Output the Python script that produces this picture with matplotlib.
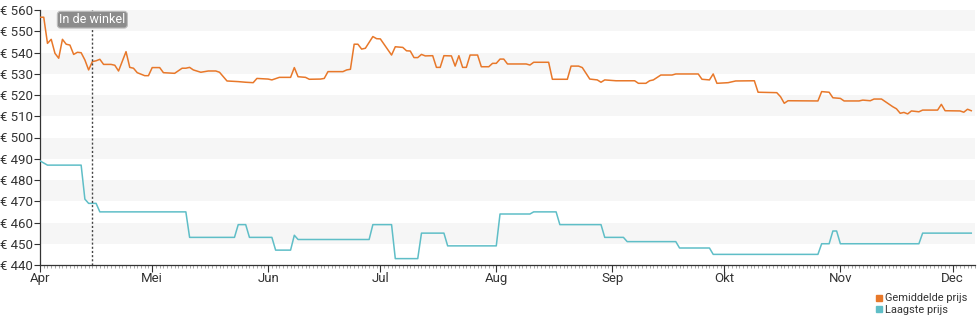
import numpy as np
import pandas as pd
import matplotlib
matplotlib.use("Agg")
import matplotlib.pyplot as plt
import matplotlib.dates as mdates
from matplotlib.lines import Line2D

plt.rcParams['font.family'] = ['Roboto', 'DejaVu Sans']

start = pd.Timestamp("2024-04-01")

# gemiddelde prijs (dagen vanaf 1 april)
avg_days = [0, 1, 2, 3, 4, 5, 6, 7, 8, 9, 10, 11, 12, 13, 14, 15, 16, 17, 19, 20,
            21, 23, 24, 25, 26, 28, 29, 30, 32, 33, 36, 38, 39, 40, 41, 43, 45, 47, 48, 50,
            53, 55, 57, 58, 61, 62, 64, 67, 68, 69, 71, 72, 75, 76, 77, 81, 82, 83, 84, 85,
            86, 87, 89, 90, 91, 94, 95, 97, 98, 99, 100, 101, 102, 103, 105, 106, 107, 108, 110, 111,
            112, 113, 114, 115, 117, 118, 120, 121, 122, 123, 124, 125, 130, 131, 132, 136, 137, 141, 142, 144,
            145, 146, 147, 149, 150, 151, 154, 159, 160, 162, 163, 164, 166, 169, 170, 176, 177, 179, 180, 181,
            184, 186, 191, 192, 197, 198, 199, 200, 208, 209, 211, 212, 214, 215, 219, 220, 222, 223, 225, 228,
            229, 230, 231, 232, 233, 235, 236, 240, 241, 242, 246, 247, 248, 249]
avg_price = [556.6, 556.6, 544.3, 546.2, 539.6, 537.3, 546.2, 543.9, 543.5, 539.1, 540.1, 539.9, 536.5, 531.8, 535.7, 536.1, 536.8, 534.4, 534.4, 534.0,
             531.3, 540.4, 533.0, 532.6, 530.5, 529.1, 529.1, 532.9, 532.9, 530.5, 530.2, 532.6, 532.6, 533.0, 531.8, 530.7, 531.3, 531.3, 530.7, 526.6,
             526.3, 526.0, 525.8, 527.8, 527.5, 527.1, 528.3, 528.3, 532.9, 528.6, 528.3, 527.4, 527.5, 527.8, 531.0, 531.0, 531.8, 532.1, 543.9, 543.9,
             541.6, 542.0, 547.5, 546.5, 546.4, 538.8, 542.7, 542.4, 540.8, 540.7, 537.6, 537.6, 539.1, 538.4, 538.5, 533.0, 533.0, 538.5, 538.4, 533.6,
             538.5, 533.0, 533.0, 538.8, 538.8, 533.3, 533.3, 534.9, 534.9, 536.9, 536.9, 534.6, 534.6, 534.1, 535.4, 535.4, 527.4, 527.4, 533.6, 533.6,
             532.9, 530.2, 527.5, 527.1, 526.0, 527.1, 526.7, 526.7, 525.5, 525.5, 526.7, 527.1, 529.4, 529.4, 529.9, 529.9, 527.4, 527.1, 529.9, 525.5,
             525.8, 526.6, 526.7, 521.3, 521.1, 519.2, 516.1, 517.3, 517.2, 521.6, 521.3, 518.7, 518.4, 517.2, 517.2, 517.6, 517.3, 518.1, 518.1, 514.5,
             513.5, 511.4, 511.8, 511.1, 512.5, 512.1, 512.9, 512.9, 515.6, 512.6, 512.5, 511.9, 513.3, 512.6]

# laagste prijs
low_days = [0, 1, 2, 11, 12, 13, 15, 16, 39, 40, 52, 53, 55, 56, 62, 63, 67, 68, 69, 88,
            89, 94, 95, 101, 102, 108, 109, 122, 123, 131, 132, 138, 139, 150, 151, 156, 157, 170, 171, 179,
            180, 208, 209, 211, 212, 213, 214, 235, 236, 249]
low_price = [489, 488, 487, 487, 471, 469, 469, 465, 465, 453, 453, 459, 459, 453, 453, 447, 447, 454, 452, 452,
             459, 459, 443, 443, 455, 455, 449, 449, 464, 464, 465, 465, 459, 459, 453, 453, 451, 451, 448, 448,
             445, 445, 450, 450, 456, 456, 450, 450, 455, 455]

month_labels = ["Apr", "Mei", "Jun", "Jul", "Aug", "Sep", "Okt", "Nov", "Dec"]
y_ticks = list(range(440, 561, 10))
store_day = 14
store_label = "In de winkel"
series_names = ["Gemiddelde prijs", "Laagste prijs"]

orange = "#e8782a"
teal = "#5fbec7"
text_col = "#333333"

avg_dates = start + pd.to_timedelta(avg_days, unit="D")
low_dates = start + pd.to_timedelta(low_days, unit="D")

fig = plt.figure(figsize=(9.8, 3.25), dpi=100)
ax = fig.add_axes([40 / 980, 1 - 265 / 325, 935 / 980, 255 / 325])

# afwisselende achtergrondbanden
for lo in y_ticks[1::2]:
    ax.axhspan(lo, lo + 10, color="#f6f6f6", lw=0, zorder=0)

ax.plot(avg_dates, avg_price, color=orange, lw=1.1, zorder=3)
ax.plot(low_dates, low_price, color=teal, lw=1.1, zorder=3)

ax.set_ylim(440, 560)
ax.set_xlim(start, start + pd.Timedelta(days=250))
ax.set_yticks(y_ticks)
ax.set_yticklabels([f"€ {v}" for v in y_ticks])

months = pd.date_range(start, periods=len(month_labels), freq="MS")
ax.set_xticks(months)
ax.set_xticklabels(month_labels)
ax.xaxis.set_minor_locator(mdates.DayLocator())

ax.tick_params(axis="both", colors=text_col, labelsize=9.5, pad=1)
ax.tick_params(axis="x", which="major", length=5, width=0.8, pad=0)
ax.tick_params(axis="x", which="minor", length=2, width=0.6, color="#999999")
ax.tick_params(axis="y", length=4, width=0.8)
for s in ["top", "right"]:
    ax.spines[s].set_visible(False)
for s in ["left", "bottom"]:
    ax.spines[s].set_color(text_col)
    ax.spines[s].set_linewidth(0.9)

# moment dat het product in de winkel kwam
store_date = start + pd.Timedelta(days=store_day)
ax.axvline(store_date, color="#444444", lw=1.0, ls=(0, (1.5, 1.5)), zorder=4)
ax.text(store_date, 0.962, store_label, transform=ax.get_xaxis_transform(),
        ha="center", va="center", color="white", fontsize=9, zorder=5,
        bbox=dict(boxstyle="round,pad=0.15,rounding_size=0.25", fc="#8c8c8c", ec="#bdbdbd", lw=0.8))

handles = [Line2D([], [], ls="none", marker="s", markersize=4.5, color=c) for c in (orange, teal)]
fig.legend(handles, series_names, loc="upper left", bbox_to_anchor=(870 / 980, 1 - 288 / 325),
           frameon=False, fontsize=7.9, handlelength=0.6, handletextpad=0.25,
           labelspacing=0.15, borderpad=0, labelcolor=text_col)

fig.savefig("out.png", dpi=100)
